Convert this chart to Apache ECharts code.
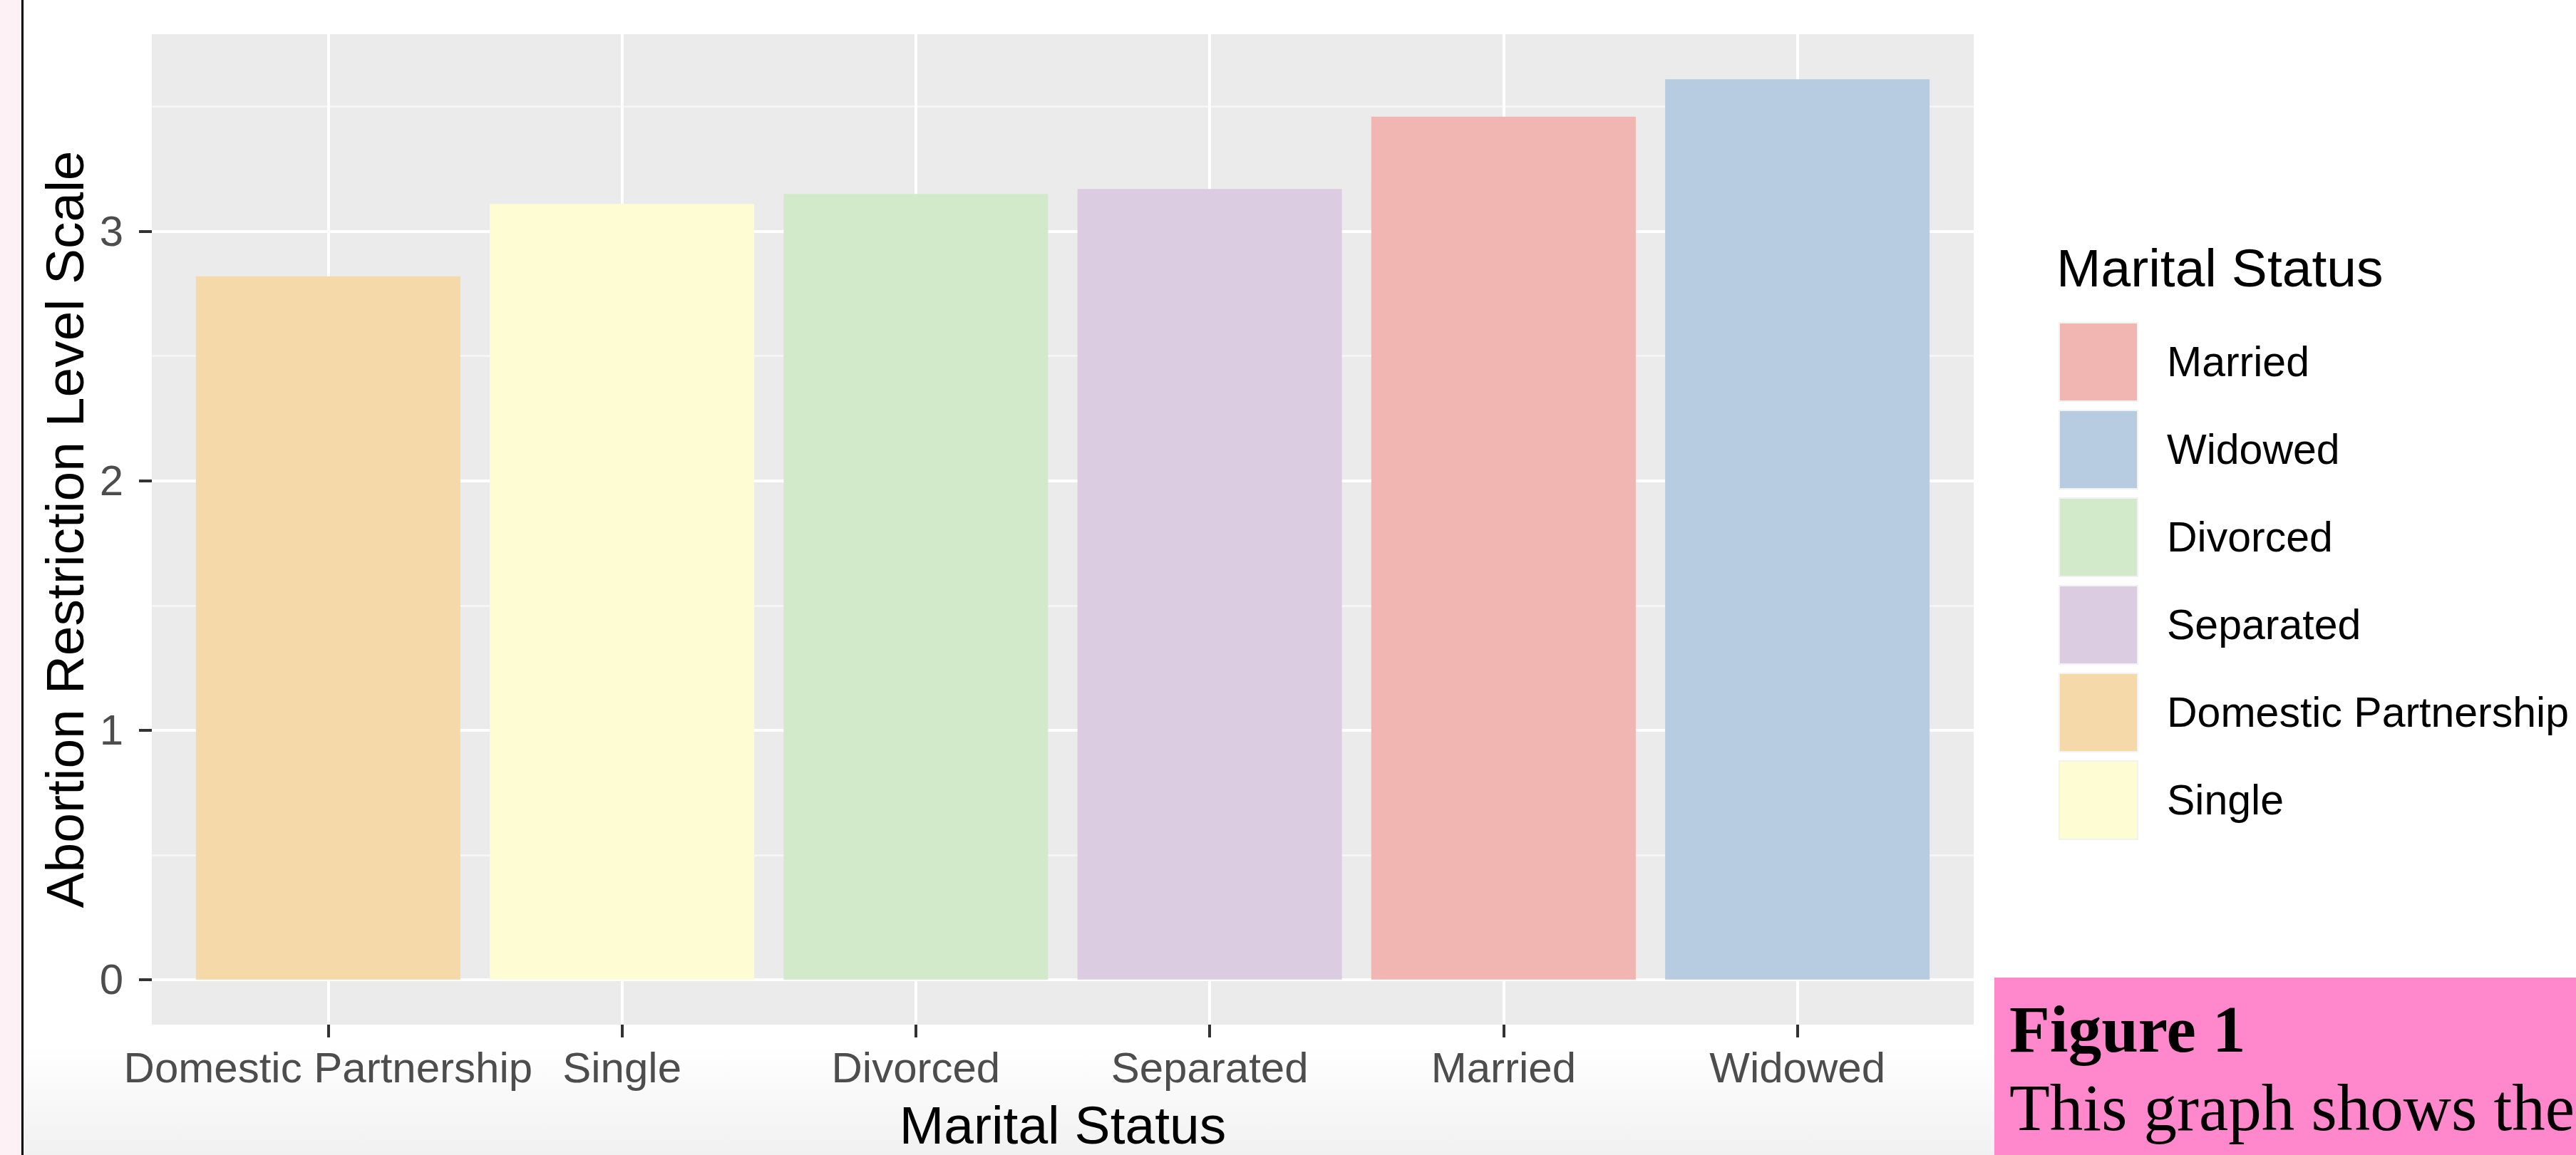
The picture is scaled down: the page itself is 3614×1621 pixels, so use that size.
<!DOCTYPE html>
<html>
<head>
<meta charset="utf-8">
<script src="https://cdn.jsdelivr.net/npm/echarts@6/dist/echarts.min.js"></script>
<style>
html,body{margin:0;padding:0;background:#fff;}
#chart{width:3614px;height:1621px;}
</style>
</head>
<body>
<div id="chart"></div>
<script>
// ---- data ----
const categories = ["Domestic Partnership", "Single", "Divorced", "Separated", "Married", "Widowed"];
const values = [2.82, 3.11, 3.15, 3.17, 3.46, 3.61];
const legendOrder = ["Married", "Widowed", "Divorced", "Separated", "Domestic Partnership", "Single"];
const yTicks = [0, 1, 2, 3];
const yMinorTicks = [0.5, 1.5, 2.5, 3.5];
const barColors = {
  "Married": "#F1B6B2",
  "Widowed": "#B7CCE1",
  "Divorced": "#D2E9CA",
  "Separated": "#DBCCE2",
  "Domestic Partnership": "#F5D9A8",
  "Single": "#FEFCD2"
};

const FONT = "'Liberation Sans', Arial, Helvetica, sans-serif";
const SERIF = "'Liberation Serif', 'Times New Roman', serif";

// ggplot-style expansion
const yMax = Math.max(...values) * 1.05;
const yMin = -Math.max(...values) * 0.05;
const xIdx = categories.map((c, i) => i);

const series = categories.map((name, i) => ({
  name: name,
  type: 'bar',
  xAxisIndex: 0,
  yAxisIndex: 0,
  barWidth: '90%',
  barGap: '-100%',
  itemStyle: { color: barColors[name] },
  emphasis: { disabled: true },
  data: [[i, values[i]]]
}));

const chart = echarts.init(document.getElementById('chart'), null, { renderer: 'svg' });
chart.setOption({
  animation: false,
  backgroundColor: '#ffffff',
  title: {
    text: 'Marital Status',
    left: 2885, top: 338, padding: 0,
    textStyle: { fontFamily: FONT, fontSize: 75, fontWeight: 'normal', color: '#000' }
  },
  legend: {
    orient: 'vertical',
    left: 2888, top: 452, padding: 0,
    itemWidth: 110, itemHeight: 110, itemGap: 11,
    icon: 'rect',
    data: legendOrder,
    selectedMode: false,
    itemStyle: { borderColor: '#F2F2F2', borderWidth: 2 },
    textStyle: { fontFamily: FONT, fontSize: 59, color: '#000', padding: [0, 0, 0, 36] }
  },
  grid: {
    left: 213, top: 48, width: 2556, height: 1400,
    show: true, backgroundColor: '#EBEBEB', borderWidth: 0,
    containLabel: false
  },
  xAxis: [{
    type: 'value',
    min: -0.6, max: categories.length - 0.4,
    name: 'Marital Status',
    nameLocation: 'middle',
    nameGap: 103,
    nameTextStyle: { fontFamily: FONT, fontSize: 75, color: '#000' },
    axisLine: { show: false, onZero: false },
    axisTick: { show: true, customValues: xIdx, length: 18, lineStyle: { color: '#333333', width: 4 } },
    axisLabel: {
      customValues: xIdx, margin: 30,
      fontFamily: FONT, fontSize: 60, color: '#4D4D4D',
      formatter: v => categories[Math.round(v)] || ''
    },
    splitLine: { show: true, lineStyle: { color: '#FFFFFF', width: 4 } }
  }],
  yAxis: [{
    type: 'value',
    min: yMin, max: yMax,
    name: 'Abortion Restriction Level Scale',
    nameLocation: 'middle',
    nameRotate: 90,
    nameGap: 83,
    nameTextStyle: { fontFamily: FONT, fontSize: 75, color: '#000' },
    axisLine: { show: false, onZero: false },
    axisTick: { show: true, customValues: yTicks, length: 18, lineStyle: { color: '#333333', width: 4 } },
    axisLabel: { customValues: yTicks, margin: 40, fontFamily: FONT, fontSize: 60, color: '#4D4D4D' },
    splitLine: { show: true, lineStyle: { color: '#FFFFFF', width: 4 } },
    z: 1
  }, {
    type: 'value',
    min: yMin, max: yMax,
    position: 'left',
    axisLine: { show: false, onZero: false },
    axisTick: { show: false, customValues: yMinorTicks },
    axisLabel: { show: false, customValues: yMinorTicks },
    splitLine: { show: true, lineStyle: { color: '#F7F7F7', width: 2.5 } },
    z: 0
  }],
  series: series,
  graphic: [
    { type: 'rect', z: -100, silent: true, shape: { x: 32, y: 1470, width: 2766, height: 151 },
      style: { fill: { type: 'linear', x: 0, y: 0, x2: 0, y2: 1, colorStops: [{ offset: 0, color: '#FFFFFF' }, { offset: 1, color: '#F1F1F1' }] } } },
    { type: 'rect', z: 100, silent: true, shape: { x: 0, y: 0, width: 30, height: 1621 }, style: { fill: '#FDF1F6' } },
    { type: 'rect', z: 100, silent: true, shape: { x: 30, y: 0, width: 3, height: 1621 }, style: { fill: '#000000' } },
    { type: 'rect', z: 100, silent: true, shape: { x: 2798, y: 1372, width: 816, height: 249 }, style: { fill: '#FF88CC' } },
    { type: 'text', z: 101, silent: true, left: 2819, top: 1398,
      style: { text: 'Figure 1', fontFamily: SERIF, fontSize: 93, fontWeight: 'bold', fill: '#000' } },
    { type: 'text', z: 101, silent: true, left: 2819, top: 1508,
      style: { text: 'This graph shows the', fontFamily: SERIF, fontSize: 93, fill: '#000' } }
  ]
});
</script>
</body>
</html>
